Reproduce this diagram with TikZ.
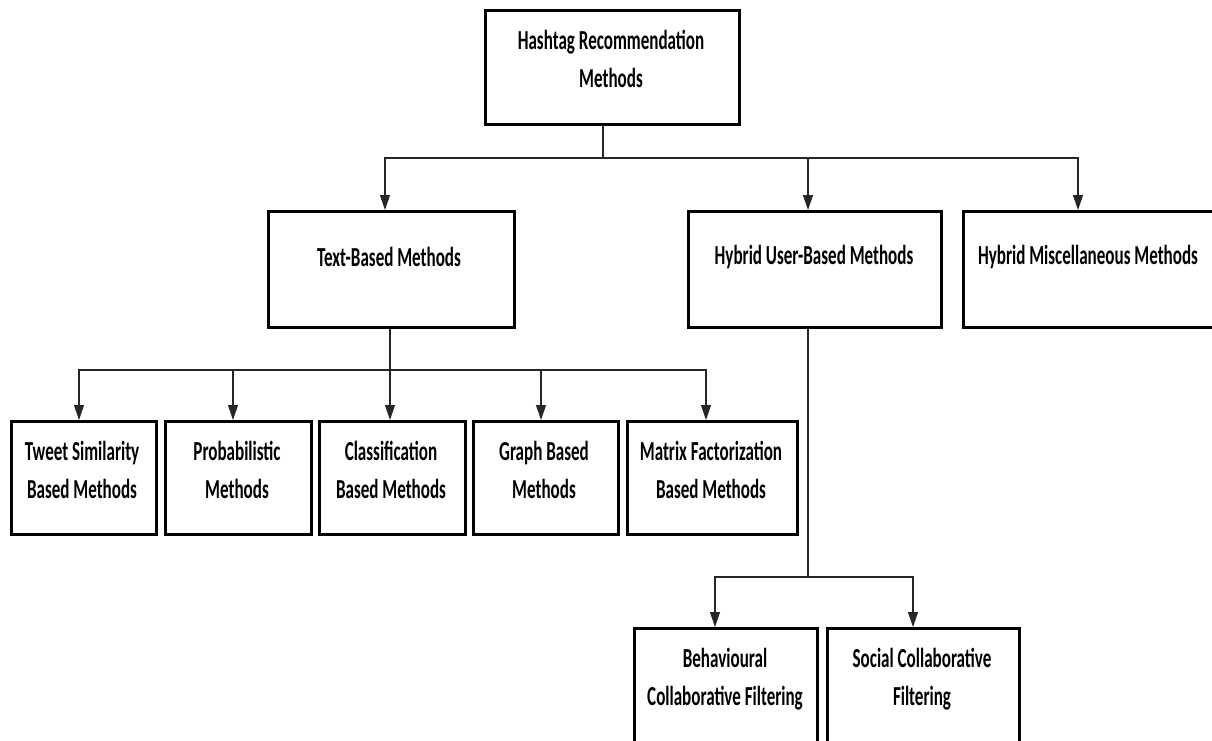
\documentclass[tikz,border=0pt]{standalone}
\usepackage{fontspec}
\setmainfont{Carlito}[FakeStretch=0.62]
\usetikzlibrary{arrows.meta,calc}
\begin{document}
\begin{tikzpicture}[x=1pt,y=-1pt,
  box/.style={draw=black,line width=2.6pt,inner sep=0pt,anchor=north west},
  lbl/.style={font=\bfseries\fontsize{27.5}{38}\selectfont,align=center,inner sep=0pt,text=black},
  conn/.style={draw=black!85,line width=1.1pt},
  arr/.style={conn,-{Triangle[width=10pt,length=15pt]}}]
\useasboundingbox (0,0) rectangle (1212,740);
\clip (0,0) rectangle (1212,740);
% boxes
\node[box,minimum width=254pt,minimum height=114pt] (top) at (484,9) {};
\node[box,minimum width=246pt,minimum height=116pt] (text) at (267,210) {};
\node[box,minimum width=253pt,minimum height=116pt] (hub) at (687,210) {};
\node[box,minimum width=270pt,minimum height=116pt] (hmm) at (962,210) {};
\node[box,minimum width=145pt,minimum height=113pt] (tw) at (10,420) {};
\node[box,minimum width=146pt,minimum height=113pt] (pr) at (164,420) {};
\node[box,minimum width=146pt,minimum height=113pt] (cl) at (318,420) {};
\node[box,minimum width=145pt,minimum height=113pt] (gr) at (472,420) {};
\node[box,minimum width=170pt,minimum height=113pt] (mf) at (626,420) {};
\node[box,minimum width=183pt,minimum height=130pt] (bcf) at (633,627) {};
\node[box,minimum width=192pt,minimum height=130pt] (scf) at (826,627) {};
% labels
\node[lbl] at (611,59) {Hashtag Recommendation\\Methods};
\node[lbl] at (389,257) {Text-Based Methods};
\node[lbl] at (814,257) {Hybrid User-Based Methods};
\node[lbl] at (1088,257) {Hybrid Miscellaneous Methods};
\node[lbl] at (82,470) {Tweet Similarity\\Based Methods};
\node[lbl] at (237,470) {Probabilistic\\Methods};
\node[lbl] at (391,470) {Classification\\Based Methods};
\node[lbl] at (544,470) {Graph Based\\Methods};
\node[lbl] at (711,470) {Matrix Factorization\\Based Methods};
\node[lbl] at (725,679) {Behavioural\\Collaborative Filtering};
\node[lbl] at (922,679) {Social Collaborative\\Filtering};
% connectors
\coordinate (j1) at (603,158);
\coordinate (j2) at (390,370);
\coordinate (j3) at (808,577);
\draw[conn] (top.south -| j1) -- (j1);
\draw[arr] (j1) -| ($(text.north west)+(118,0)$);
\draw[arr] (j1) -| (hub.north -| j3);
\draw[arr] (j1) -| ($(hmm.north west)+(116,0)$);
\draw[conn] (text.south -| j2) -- (j2);
\draw[arr] (j2) -| ($(tw.north west)+(69,0)$);
\draw[arr] (j2) -| ($(pr.north west)+(69,0)$);
\draw[arr] (j2) -- (cl.north -| j2);
\draw[arr] (j2) -| ($(gr.north west)+(69,0)$);
\draw[arr] (j2) -| ($(mf.north west)+(80,0)$);
\draw[conn] (hub.south -| j3) -- (j3);
\draw[arr] (j3) -| ($(bcf.north west)+(82,0)$);
\draw[arr] (j3) -| ($(scf.north west)+(87,0)$);
\end{tikzpicture}
\end{document}
